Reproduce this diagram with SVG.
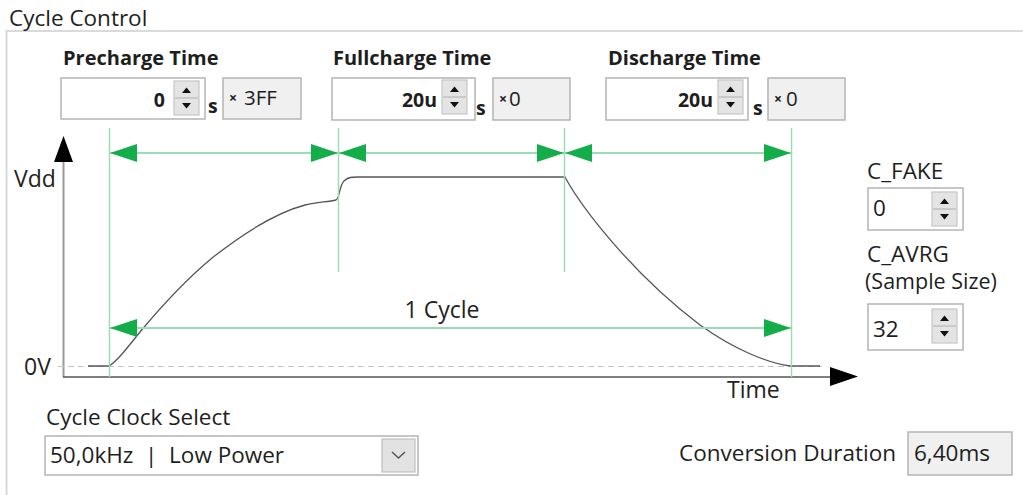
<svg xmlns="http://www.w3.org/2000/svg" width="1023" height="495" viewBox="0 0 1023 495">
  <style>
    .ui { font-family: "Open Sans", "Noto Sans", "Liberation Sans", sans-serif; fill: #1e1e1e; }
    .lbl { font-size: 22.5px; }
    .hdr { font-size: 20px; font-weight: bold; }
    .val { font-size: 19.5px; font-weight: bold; }
    .hex { font-size: 20.5px; }
    .mul { font-size: 14px; font-weight: bold; }
    .axis { font-family: "Open Sans", "Noto Sans", "Liberation Sans", sans-serif; font-size: 23px; fill: #222; }
    .field { fill: #ffffff; stroke: #b4b4b4; stroke-width: 1.5; }
    .ro { fill: #f0f0f0; stroke: #b4b4b4; stroke-width: 1.5; }
    .guide { stroke: #9bdcb4; stroke-width: 1.5; fill: none; }
    .dim { stroke: #9bdcb4; stroke-width: 2; fill: none; }
    .head { fill: #13ad4a; }
    .curve { stroke: #555; stroke-width: 1.3; fill: none; }
  </style>
  <defs>
    <!-- spin button: up/down arrows, 25 x 34 -->
    <g id="spin">
      <rect x="0" y="0" width="25" height="34" fill="#e4e4e4" stroke="#c6c6c6" stroke-width="1.2"/>
      <line x1="1" y1="17" x2="24" y2="17" stroke="#b0b0b0" stroke-width="1"/>
      <path d="M8,12 L17,12 L12.5,6.5 Z" fill="#111"/>
      <path d="M8,22 L17,22 L12.5,27.5 Z" fill="#111"/>
    </g>
    <marker id="arrR" markerWidth="27" markerHeight="18" refX="27" refY="9" orient="auto" markerUnits="userSpaceOnUse">
      <path d="M0,0 L27,9 L0,18 Z" class="head"/>
    </marker>
    <marker id="arrL" markerWidth="27" markerHeight="18" refX="0" refY="9" orient="auto" markerUnits="userSpaceOnUse">
      <path d="M27,0 L0,9 L27,18 Z" class="head"/>
    </marker>
  </defs>

  <rect x="0" y="0" width="1023" height="495" fill="#ffffff"/>

  <!-- group frame -->
  <g id="frame">
    <path d="M1023,31 L6.5,31 L6.5,495" fill="none" stroke="#dadada" stroke-width="2"/>
    <text class="ui lbl" x="9" y="26">Cycle Control</text>
  </g>

  <!-- precharge time -->
  <g id="precharge">
    <text class="ui hdr" x="63" y="65">Precharge Time</text>
    <rect class="field" x="61" y="78" width="144" height="41"/>
    <text class="ui val" x="165" y="107" text-anchor="end">0</text>
    <use href="#spin" x="174" y="81"/>
    <text class="ui val" x="208" y="113">s</text>
    <rect class="ro" x="223" y="78" width="78" height="41"/>
    <text class="ui mul" x="229" y="103">×</text>
    <text class="ui hex" x="244" y="105">3FF</text>
  </g>

  <!-- fullcharge time -->
  <g id="fullcharge">
    <text class="ui hdr" x="333" y="65">Fullcharge Time</text>
    <rect class="field" x="332" y="78" width="143" height="42"/>
    <text class="ui val" x="437" y="107" text-anchor="end">20u</text>
    <use href="#spin" x="442" y="80"/>
    <text class="ui val" x="476" y="115">s</text>
    <rect class="ro" x="493" y="78" width="77" height="42"/>
    <text class="ui mul" x="499" y="104">×</text>
    <text class="ui hex" x="509" y="106">0</text>
  </g>

  <!-- discharge time -->
  <g id="discharge">
    <text class="ui hdr" x="608" y="65">Discharge Time</text>
    <rect class="field" x="606" y="78" width="142" height="42"/>
    <text class="ui val" x="713" y="107" text-anchor="end">20u</text>
    <use href="#spin" x="718" y="80"/>
    <text class="ui val" x="753" y="115">s</text>
    <rect class="ro" x="768" y="78" width="77" height="42"/>
    <text class="ui mul" x="774" y="104">×</text>
    <text class="ui hex" x="786" y="106">0</text>
  </g>

  <!-- chart axes and waveform -->
  <g id="chart">
    <line x1="63.5" y1="158" x2="63.5" y2="377" stroke="#999" stroke-width="2"/>
    <path d="M54,162 L63.5,136 L73,162 Z" fill="#000"/>
    <line x1="63" y1="377" x2="832" y2="377" stroke="#555" stroke-width="1.6"/>
    <path d="M830,367 L858,376.5 L830,386 Z" fill="#000"/>
    <line x1="58" y1="366.5" x2="822" y2="366.5" stroke="#c4c4c4" stroke-width="1.2" stroke-dasharray="6,4"/>
    <text class="axis" x="14" y="187">Vdd</text>
    <text class="axis" x="24" y="375">0V</text>
    <text class="axis" x="727" y="398">Time</text>
    <path class="curve" d="M88,366 L109,366 C116,362 124,352 140,332 C165,302 188,278 212,258 C245,232 275,213 305,205 C318,202 328,202 336,200 C340,198 339,186 344,181 C348,177 352,177 358,177 L565,177 C580,205 630,272 700,325 C735,350 768,363 790,366 L820,366"/>
  </g>

  <!-- phase guides and dimension arrows -->
  <g id="connectors">
    <line class="guide" x1="109.5" y1="128" x2="109.5" y2="377"/>
    <line class="guide" x1="338.5" y1="128" x2="338.5" y2="272"/>
    <line class="guide" x1="564.5" y1="128" x2="564.5" y2="272"/>
    <line class="guide" x1="791.5" y1="128" x2="791.5" y2="377"/>
    <line class="dim" x1="110" y1="153" x2="338" y2="153" marker-start="url(#arrL)" marker-end="url(#arrR)"/>
    <line class="dim" x1="339" y1="153" x2="564" y2="153" marker-start="url(#arrL)" marker-end="url(#arrR)"/>
    <line class="dim" x1="565" y1="153" x2="791" y2="153" marker-start="url(#arrL)" marker-end="url(#arrR)"/>
    <line class="dim" x1="110" y1="328" x2="791" y2="328" marker-start="url(#arrL)" marker-end="url(#arrR)"/>
    <text class="axis" x="442" y="318" text-anchor="middle">1 Cycle</text>
  </g>

  <!-- C_FAKE -->
  <g id="c-fake">
    <text class="ui lbl" x="867" y="179">C_FAKE</text>
    <rect class="field" x="868" y="188" width="95" height="42"/>
    <text class="ui lbl" x="873" y="216">0</text>
    <use href="#spin" x="932" y="192"/>
  </g>

  <!-- C_AVRG -->
  <g id="c-avrg">
    <text class="ui lbl" x="867" y="262">C_AVRG</text>
    <text class="ui lbl" x="865" y="289" style="font-size:21.5px">(Sample Size)</text>
    <rect class="field" x="868" y="304" width="95" height="46"/>
    <text class="ui lbl" x="873" y="337">32</text>
    <use href="#spin" x="932" y="309"/>
  </g>

  <!-- cycle clock select -->
  <g id="clock-select">
    <text class="ui lbl" x="46" y="425">Cycle Clock Select</text>
    <rect class="field" x="45" y="436" width="373" height="39"/>
    <text class="ui lbl" x="50" y="463" xml:space="preserve">50,0kHz  |  Low Power</text>
    <rect x="382" y="439" width="33" height="33" fill="#e2e2e2" stroke="#c0c0c0" stroke-width="1.2"/>
    <path d="M392,452 L398.5,458 L405,452" fill="none" stroke="#555" stroke-width="1.4"/>
  </g>

  <!-- conversion duration -->
  <g id="conversion">
    <text class="ui lbl" x="679" y="461">Conversion Duration</text>
    <rect class="ro" x="908" y="432" width="104" height="43"/>
    <text class="ui lbl" x="914" y="461">6,40ms</text>
  </g>
</svg>
